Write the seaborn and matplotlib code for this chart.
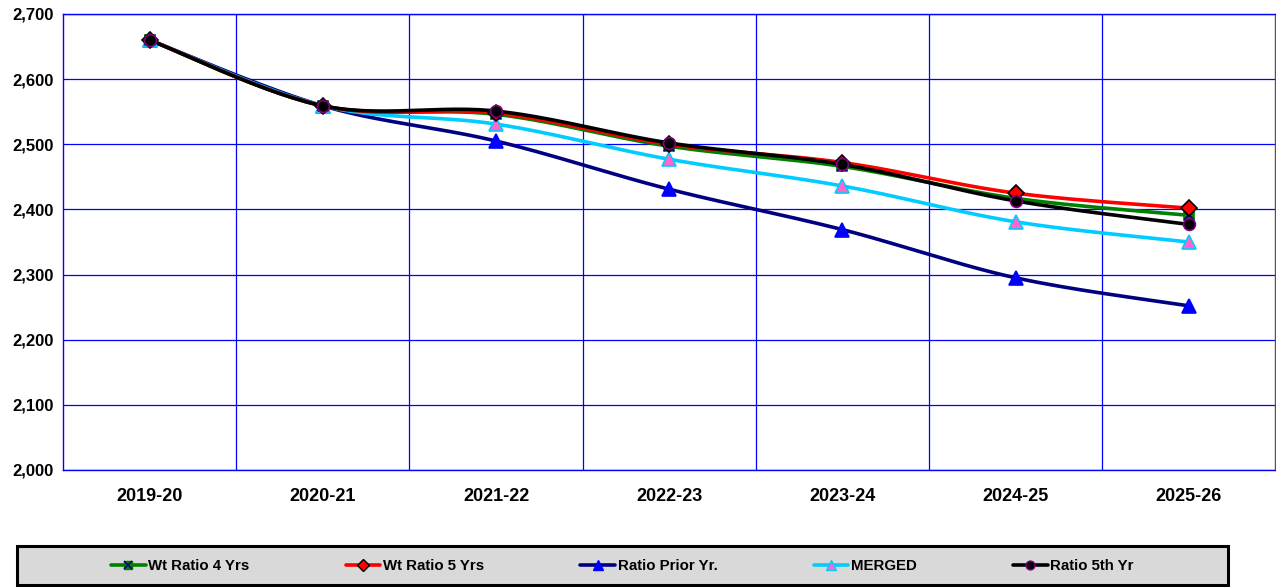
import numpy as np
import pandas as pd
import matplotlib
matplotlib.use("Agg")
import matplotlib.pyplot as plt
import seaborn as sns
from matplotlib.lines import Line2D
from matplotlib.patches import Rectangle
from matplotlib.legend_handler import HandlerTuple
from matplotlib.ticker import FuncFormatter, MultipleLocator

# ---------------- data ----------------
years = ["2019-20", "2020-21", "2021-22", "2022-23", "2023-24", "2024-25", "2025-26"]
wt_ratio_4 = [2660, 2559, 2546, 2497, 2466, 2417, 2391]
wt_ratio_5 = [2660, 2559, 2548, 2500, 2472, 2425, 2402]
ratio_prior = [2660, 2559, 2505, 2431, 2369, 2295, 2252]
merged = [2660, 2559, 2531, 2477, 2436, 2381, 2350]
ratio_5th = [2660, 2559, 2551, 2502, 2469, 2413, 2377]

series_names = ["Wt Ratio 4 Yrs", "Wt Ratio 5 Yrs", "Ratio Prior Yr.", "MERGED", "Ratio 5th Yr"]
series_values = [wt_ratio_4, wt_ratio_5, ratio_prior, merged, ratio_5th]

# ---------------- style ----------------
sns.set_theme(style="white")
plt.rcParams["font.family"] = ["Liberation Sans", "DejaVu Sans"]
plt.rcParams["font.weight"] = "bold"
plt.rcParams["text.color"] = "black"
plt.rcParams["xtick.color"] = "black"
plt.rcParams["ytick.color"] = "black"
plt.rcParams["xtick.labelcolor"] = "black"
plt.rcParams["ytick.labelcolor"] = "black"

styles = {
    "Wt Ratio 4 Yrs": dict(color="#008000", marker="s", mfc="#008000", mec="#008000", ms=7.5,
                           over=dict(marker="x", mec="#000080", ms=7.5)),
    "Wt Ratio 5 Yrs": dict(color="#ff0000", marker="D", mfc="#ff0000", mec="#000000", ms=8.5),
    "Ratio Prior Yr.": dict(color="#000080", marker="^", mfc="#0000ff", mec="#0000ff", ms=9.5),
    "MERGED": dict(color="#00ccff", marker="^", mfc="#ff66cc", mec="#00ccff", ms=9.5),
    "Ratio 5th Yr": dict(color="#000000", marker="o", mfc="#000000", mec="#800080", ms=8.5),
}
draw_order = ["Ratio Prior Yr.", "MERGED", "Wt Ratio 4 Yrs", "Wt Ratio 5 Yrs", "Ratio 5th Yr"]


def smooth(xs, ys, n=30):
    """Cardinal (Catmull-Rom) Bezier smoothing through the data points."""
    xs = np.asarray(xs, float)
    ys = np.asarray(ys, float)
    pts = np.column_stack([xs, ys])
    out = []
    m = len(pts)
    for i in range(m - 1):
        p0 = pts[i - 1] if i > 0 else pts[i]
        p1 = pts[i]
        p2 = pts[i + 1]
        p3 = pts[i + 2] if i + 2 < m else pts[i + 1]
        c1 = p1 + (p2 - p0) / 6.0
        c2 = p2 - (p3 - p1) / 6.0
        t = np.linspace(0, 1, n, endpoint=(i == m - 2))[:, None]
        seg = ((1 - t) ** 3) * p1 + 3 * ((1 - t) ** 2) * t * c1 + 3 * (1 - t) * t ** 2 * c2 + t ** 3 * p2
        out.append(seg)
    out = np.vstack(out)
    return out[:, 0], out[:, 1]


fig = plt.figure(figsize=(12.76, 5.87), dpi=100)
ax = fig.add_axes([63 / 1276, 1 - 470 / 587, (1275.5 - 63) / 1276, (470 - 14) / 587])

xpos = np.arange(len(years))
frames = []
for name, vals in zip(series_names, series_values):
    sx, sy = smooth(xpos, vals)
    frames.append(pd.DataFrame({"x": sx, "y": sy, "series": name, "order": np.arange(len(sx))}))
curves = pd.concat(frames, ignore_index=True)

handles = {}
for z, name in enumerate(draw_order):
    st = styles[name]
    sub = curves[curves["series"] == name]
    sns.lineplot(data=sub, x="x", y="y", sort=False, estimator=None, color=st["color"],
                 lw=2.6, ax=ax, zorder=3 + z, legend=False)
    vals = series_values[series_names.index(name)]
    ax.plot(xpos, vals, linestyle="none", marker=st["marker"], mfc=st["mfc"], mec=st["mec"],
            ms=st["ms"], mew=1.2, zorder=10 + z, clip_on=False)
    h = Line2D([], [], color=st["color"], lw=2.6, marker=st["marker"], mfc=st["mfc"],
               mec=st["mec"], ms=st["ms"] * 0.75, mew=1.0)
    if "over" in st:
        ov = st["over"]
        ax.plot(xpos, vals, linestyle="none", marker=ov["marker"], mec=ov["mec"], ms=ov["ms"],
                mew=1.3, zorder=10.5 + z, clip_on=False)
        h2 = Line2D([], [], linestyle="none", marker=ov["marker"], mec=ov["mec"],
                    ms=ov["ms"] * 0.75, mew=1.1)
        h = (h, h2)
    handles[name] = h

# axes
ax.set_xlim(-0.5, len(years) - 0.5)
ax.set_ylim(2000, 2700)
ax.set_xticks(xpos)
ax.set_xticklabels(years, fontsize=13, fontweight="bold", color="black")
ax.set_xticks(xpos[:-1] + 0.5, minor=True)
ax.yaxis.set_major_locator(MultipleLocator(100))
ax.yaxis.set_major_formatter(FuncFormatter(lambda v, p: f"{int(v):,}"))
ax.tick_params(axis="x", which="major", length=0, pad=13, labelcolor="black")
ax.tick_params(axis="x", which="minor", length=6, width=1, color="#0000ff", direction="out")
ax.tick_params(axis="y", which="major", length=5, width=1, color="#0000ff", direction="out",
               pad=2, labelsize=12, labelcolor="black")
for lab in ax.get_yticklabels():
    lab.set_fontweight("bold")
ax.set_xlabel("")
ax.set_ylabel("")

ax.grid(False)
ax.yaxis.grid(True, color="#0000ff", lw=0.9)
ax.xaxis.grid(True, which="minor", color="#0000ff", lw=0.9)
ax.set_axisbelow(True)
for s in ["left", "bottom", "top"]:
    ax.spines[s].set_color("#0000ff")
    ax.spines[s].set_linewidth(1.0)
ax.spines["right"].set_color("#555555")
ax.spines["right"].set_linewidth(1.0)

# legend box
box = Rectangle((17 / 1276, 1 - 585 / 587), (1228 - 17) / 1276, (585 - 546) / 587,
                transform=fig.transFigure, facecolor="#d9d9d9", edgecolor="black", lw=2.2,
                zorder=0)
fig.patches.append(box)
leg = fig.legend([handles[n] for n in series_names], series_names, loc="center",
                 bbox_to_anchor=((17 + 1228) / 2 / 1276, 1 - 566 / 587), ncol=5, frameon=False,
                 prop={"size": 10.8, "weight": "bold"}, handlelength=2.3, handletextpad=0.2,
                 columnspacing=6.4, handler_map={tuple: HandlerTuple(ndivide=1, pad=0)})
for t in leg.get_texts():
    t.set_color("black")

fig.savefig("out.png", dpi=100)
